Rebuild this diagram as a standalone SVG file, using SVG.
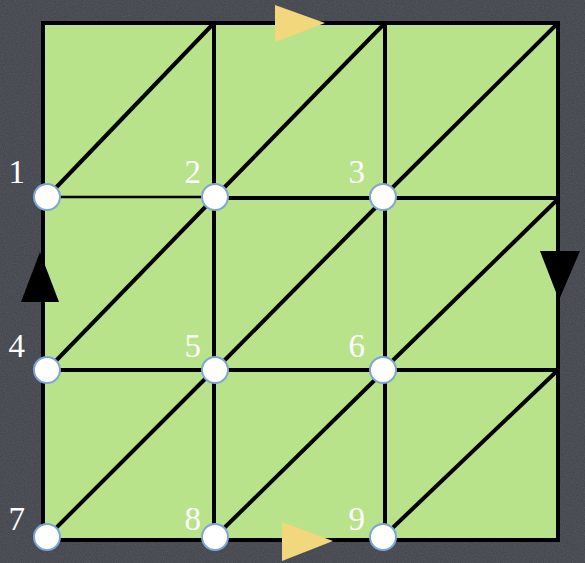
<svg xmlns="http://www.w3.org/2000/svg" width="585" height="563" viewBox="0 0 585 563">
  <defs>
    <filter id="grain" x="0" y="0" width="100%" height="100%">
      <feTurbulence type="fractalNoise" baseFrequency="0.9" numOctaves="2" seed="3" result="n"/>
      <feColorMatrix type="matrix" values="0 0 0 0 0.55  0 0 0 0 0.56  0 0 0 0 0.6  0 0 0 0.18 0" in="n"/>
    </filter>
    <style>
      .edge { stroke: #000; stroke-width: 4; stroke-linecap: round; fill: none; }
      .thin { stroke-width: 2.5; }
      .node circle { fill: #ffffff; stroke: #7ea5d6; stroke-width: 2; }
      .lbl { font-family: "Liberation Serif", "Times New Roman", serif; font-size: 33px; fill: #ffffff; text-anchor: end; }
      .yarrow { fill: #f2d77c; }
      .barrow { fill: #000; }
    </style>
  </defs>
  <rect x="0" y="0" width="585" height="563" fill="#3f4149"/>
  <rect x="0" y="0" width="585" height="563" filter="url(#grain)"/>
  <rect x="43" y="23" width="515" height="517" fill="#b8e38a"/>
  <g id="connectors">
    <rect class="edge" x="43" y="23" width="515" height="517" stroke-width="4.5"/>
    <line class="edge" x1="214" y1="23" x2="214" y2="540"/>
    <line class="edge" x1="385" y1="23" x2="385" y2="540"/>
    <line class="edge thin" x1="47" y1="197" x2="215" y2="197"/>
    <line class="edge" x1="215" y1="198" x2="558" y2="198"/>
    <line class="edge" x1="43" y1="370" x2="558" y2="370"/>
    <line class="edge" x1="47" y1="197" x2="214" y2="23"/>
    <line class="edge" x1="215" y1="197" x2="385" y2="23"/>
    <line class="edge" x1="383" y1="197" x2="558" y2="23"/>
    <line class="edge" x1="47" y1="370" x2="214" y2="198"/>
    <line class="edge" x1="215" y1="370" x2="385" y2="198"/>
    <line class="edge" x1="383" y1="370" x2="558" y2="199"/>
    <line class="edge" x1="47" y1="537" x2="214" y2="370"/>
    <line class="edge" x1="215" y1="537" x2="385" y2="370"/>
    <line class="edge" x1="383" y1="537" x2="558" y2="370"/>
  </g>
  <g id="arrows">
    <polygon class="yarrow" points="275,5 275,42 325,23"/>
    <polygon class="yarrow" points="282,522 282,561 333,541"/>
    <polygon class="barrow" points="40,252 21,302 59,302"/>
    <polygon class="barrow" points="540,251 580,251 559,300"/>
  </g>
  <g id="n1" class="node"><circle cx="47" cy="197" r="13"/><text class="lbl" x="25" y="183">1</text></g>
  <g id="n2" class="node"><circle cx="215" cy="197" r="13"/><text class="lbl" x="201" y="183">2</text></g>
  <g id="n3" class="node"><circle cx="383" cy="197" r="13"/><text class="lbl" x="365" y="183">3</text></g>
  <g id="n4" class="node"><circle cx="47" cy="370" r="13"/><text class="lbl" x="25" y="357">4</text></g>
  <g id="n5" class="node"><circle cx="215" cy="370" r="13"/><text class="lbl" x="201" y="357">5</text></g>
  <g id="n6" class="node"><circle cx="383" cy="370" r="13"/><text class="lbl" x="365" y="357">6</text></g>
  <g id="n7" class="node"><circle cx="47" cy="537" r="13"/><text class="lbl" x="25" y="530">7</text></g>
  <g id="n8" class="node"><circle cx="215" cy="537" r="13"/><text class="lbl" x="201" y="530">8</text></g>
  <g id="n9" class="node"><circle cx="383" cy="537" r="13"/><text class="lbl" x="365" y="530">9</text></g>
</svg>
